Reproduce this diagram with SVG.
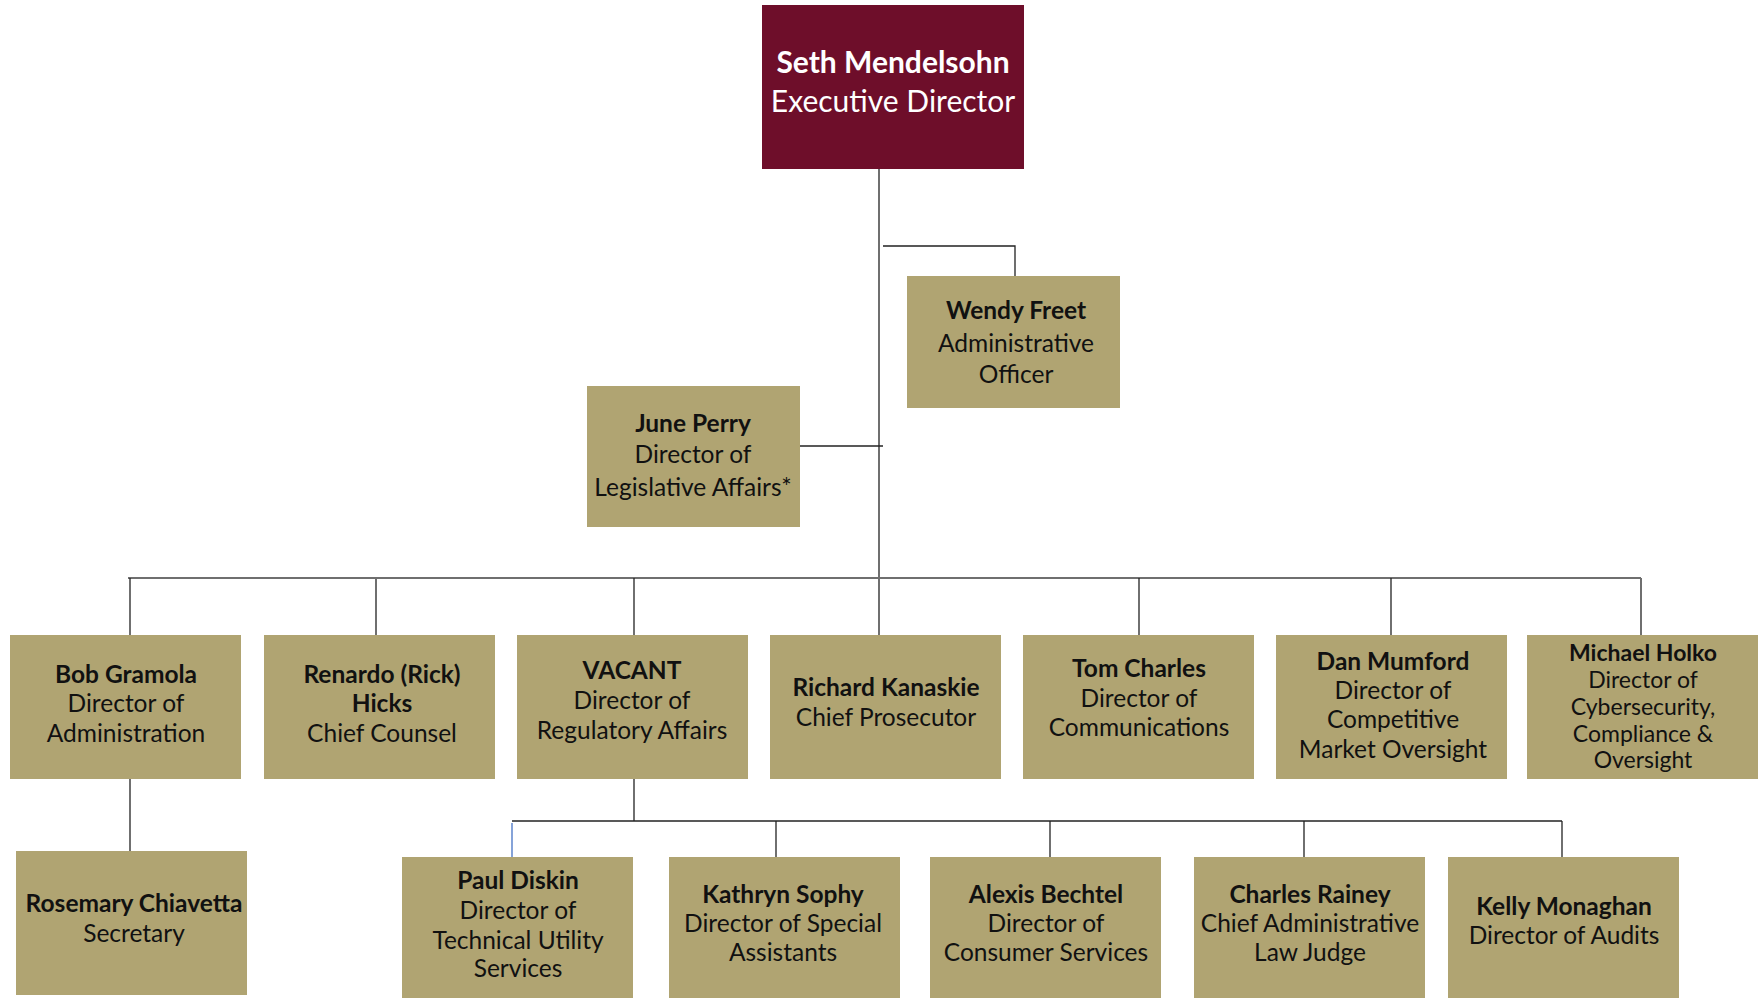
<svg xmlns="http://www.w3.org/2000/svg" width="1759" height="998" viewBox="0 0 1759 998">
<style>
.box{fill:#B0A472}
.top{fill:#6E0E2A}
text{font-family:Lato,"Noto Sans","Liberation Sans",sans-serif;font-size:24.5px;fill:#111;text-anchor:middle}
.b{font-weight:bold}
.w{fill:#fff;font-size:30px}
.sm{font-size:23px}
.ln{fill:none;stroke:#222;stroke-width:1.3}
.g{fill:none;stroke:#6f6f6f;stroke-width:2}
</style>
<rect width="1759" height="998" fill="#fff"/>
<g id="connectors">
<path class="g" d="M879 169V635"/>
<path class="ln" d="M883 246H1015V276"/>
<path class="ln" d="M800 446H883"/>
<path class="g" d="M128 578H1641"/>
<path class="ln" d="M130 578V635"/>
<path class="g" d="M376 578V635"/>
<path class="ln" d="M634 578V635"/>
<path class="ln" d="M1139 578V635"/>
<path class="ln" d="M1391 578V635"/>
<path class="g" d="M1641 578V635"/>
<path class="ln" d="M130 779V851"/>
<path class="ln" d="M634 779V821"/>
<path class="ln" d="M512 821H1562"/>
<path fill="none" stroke="#4472C4" stroke-width="1.3" d="M512 823V857"/>
<path class="ln" d="M776 821V857"/>
<path class="ln" d="M1050 821V857"/>
<path class="ln" d="M1304 821V857"/>
<path class="ln" d="M1562 821V857"/>
</g>
<g id="seth"><rect class="top" x="762" y="5" width="262" height="164"/>
<text class="w" x="893"><tspan class="b" x="893" y="73">Seth Mendelsohn</tspan><tspan x="893" y="112">Executive Director</tspan></text></g>
<g id="wendy"><rect class="box" x="907" y="276" width="213" height="132"/>
<text x="1016"><tspan class="b" x="1016" y="319">Wendy Freet</tspan><tspan x="1016" y="352">Administrative</tspan><tspan x="1016" y="383">Officer</tspan></text></g>
<g id="june"><rect class="box" x="587" y="386" width="213" height="141"/>
<text x="693"><tspan class="b" x="693" y="432">June Perry</tspan><tspan x="693" y="463">Director of</tspan><tspan x="693" y="496">Legislative Affairs*</tspan></text></g>
<g id="bob"><rect class="box" x="10" y="635" width="231" height="144"/>
<text><tspan class="b" x="126" y="683">Bob Gramola</tspan><tspan x="126" y="712">Director of</tspan><tspan x="126" y="742">Administration</tspan></text></g>
<g id="renardo"><rect class="box" x="264" y="635" width="231" height="144"/>
<text><tspan class="b" x="382" y="683">Renardo (Rick)</tspan><tspan class="b" x="382" y="712">Hicks</tspan><tspan x="382" y="742">Chief Counsel</tspan></text></g>
<g id="vacant"><rect class="box" x="517" y="635" width="231" height="144"/>
<text><tspan class="b" x="632" y="679">VACANT</tspan><tspan x="632" y="709">Director of</tspan><tspan x="632" y="739">Regulatory Affairs</tspan></text></g>
<g id="richard"><rect class="box" x="770" y="635" width="231" height="144"/>
<text><tspan class="b" x="886" y="696">Richard Kanaskie</tspan><tspan x="886" y="726">Chief Prosecutor</tspan></text></g>
<g id="tom"><rect class="box" x="1023" y="635" width="231" height="144"/>
<text><tspan class="b" x="1139" y="677">Tom Charles</tspan><tspan x="1139" y="707">Director of</tspan><tspan x="1139" y="736">Communications</tspan></text></g>
<g id="dan"><rect class="box" x="1276" y="635" width="231" height="144"/>
<text><tspan class="b" x="1393" y="670">Dan Mumford</tspan><tspan x="1393" y="699">Director of</tspan><tspan x="1393" y="728">Competitive</tspan><tspan x="1393" y="758">Market Oversight</tspan></text></g>
<g id="michael"><rect class="box" x="1527" y="635" width="231" height="144"/>
<text class="sm"><tspan class="b" x="1643" y="661">Michael Holko</tspan><tspan x="1643" y="688">Director of</tspan><tspan x="1643" y="715">Cybersecurity,</tspan><tspan x="1643" y="742">Compliance &amp;</tspan><tspan x="1643" y="768">Oversight</tspan></text></g>
<g id="rosemary"><rect class="box" x="16" y="851" width="231" height="144"/>
<text><tspan class="b" x="134" y="912">Rosemary Chiavetta</tspan><tspan x="134" y="942">Secretary</tspan></text></g>
<g id="paul"><rect class="box" x="402" y="857" width="231" height="141"/>
<text><tspan class="b" x="518" y="889">Paul Diskin</tspan><tspan x="518" y="919">Director of</tspan><tspan x="518" y="949">Technical Utility</tspan><tspan x="518" y="977">Services</tspan></text></g>
<g id="kathryn"><rect class="box" x="669" y="857" width="231" height="141"/>
<text><tspan class="b" x="783" y="903">Kathryn Sophy</tspan><tspan x="783" y="932">Director of Special</tspan><tspan x="783" y="961">Assistants</tspan></text></g>
<g id="alexis"><rect class="box" x="930" y="857" width="231" height="141"/>
<text><tspan class="b" x="1046" y="903">Alexis Bechtel</tspan><tspan x="1046" y="932">Director of</tspan><tspan x="1046" y="961">Consumer Services</tspan></text></g>
<g id="charles"><rect class="box" x="1194" y="857" width="231" height="141"/>
<text><tspan class="b" x="1310" y="903">Charles Rainey</tspan><tspan x="1310" y="932">Chief Administrative</tspan><tspan x="1310" y="961">Law Judge</tspan></text></g>
<g id="kelly"><rect class="box" x="1448" y="857" width="231" height="141"/>
<text><tspan class="b" x="1564" y="915">Kelly Monaghan</tspan><tspan x="1564" y="944">Director of Audits</tspan></text></g>
</svg>
